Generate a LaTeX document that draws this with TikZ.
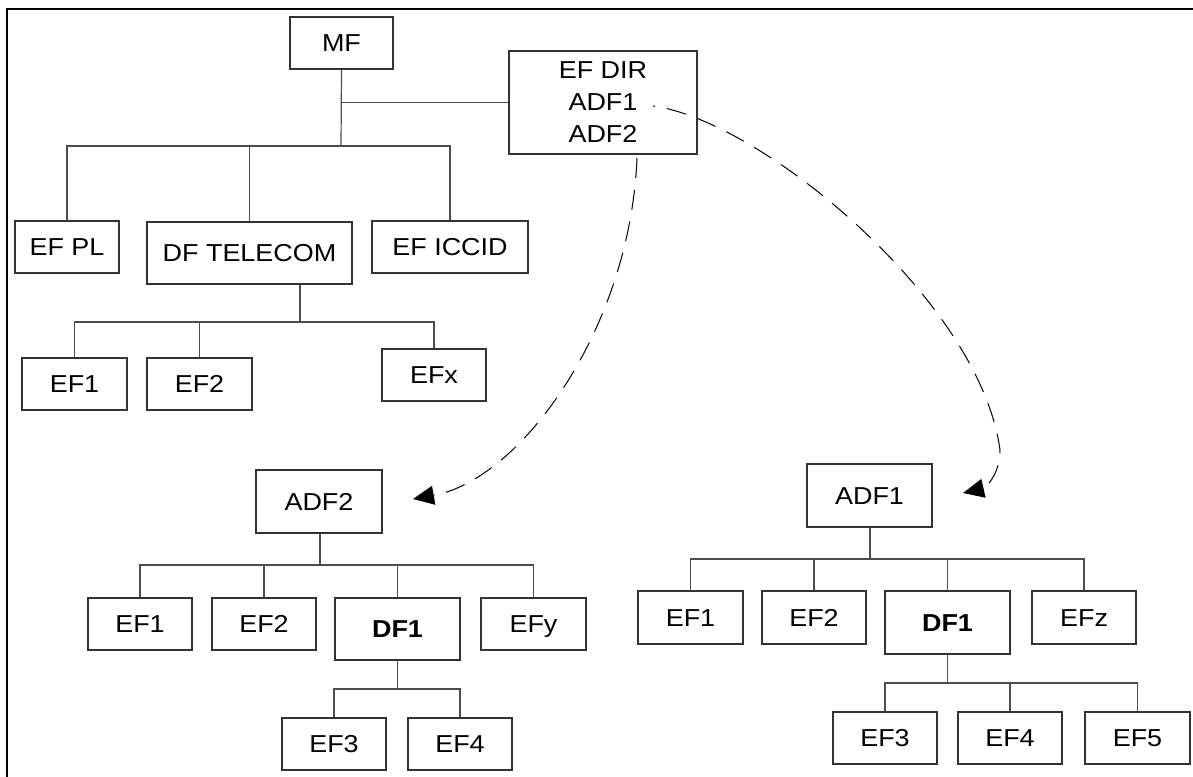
\documentclass[tikz,border=0pt]{standalone}
\usepackage{fontspec}
\setmainfont{Liberation Sans}[FakeStretch=1.1]
\usetikzlibrary{arrows.meta}
\begin{document}
\begin{tikzpicture}[x=1pt,y=-1pt,
  boxbase/.style={draw=black!80,line width=1.3pt,inner sep=0pt,font=\fontsize{24.5}{32}\selectfont},
  box/.style={boxbase,text height=17pt,text depth=0pt},
  treeline/.style={draw=black!70,line width=1.2pt},
  link/.style={draw=black,line width=1pt,dash pattern=on 20pt off 12pt,-{Triangle[length=21pt,width=19pt]}}]
\useasboundingbox (0,0) rectangle (1193,776);
\draw[line width=2pt] (7,790) -- (7,9) -- (1200,9);

% top tree
\node[box,minimum width=103pt,minimum height=52pt] (MF) at (341.5,43) {MF};
\node[boxbase,minimum width=188pt,minimum height=103pt,align=center] (EFDIR) at (603,102.5) {EF DIR\\ADF1\\ADF2};
\node[box,minimum width=104pt,minimum height=52pt] (EFPL) at (67,247) {EF PL};
\node[box,minimum width=205pt,minimum height=62pt] (DFTEL) at (249.5,253) {DF TELECOM};
\node[box,minimum width=156pt,minimum height=52pt] (EFICCID) at (450,247) {EF ICCID};
\node[box,minimum width=105pt,minimum height=52pt] (EFa) at (74.5,384) {EF1};
\node[box,minimum width=105pt,minimum height=52pt] (EFb) at (199.5,384) {EF2};
\node[box,minimum width=104pt,minimum height=52pt] (EFx) at (434,375) {EFx};

\coordinate (j0) at (341,102.5);
\coordinate (j1) at (341,146);
\draw[treeline] (MF.south) -- (j1);
\draw[treeline] (j0) -- (EFDIR.west);
\draw[treeline] (EFPL.north) |- (j1);
\draw[treeline] (DFTEL.north) -- (DFTEL.north |- j1);
\draw[treeline] (EFICCID.north) |- (j1);

\coordinate (j2) at (300,322);
\draw[treeline] (j2) -- (j2 |- DFTEL.south);
\draw[treeline] (EFa.north) |- (j2);
\draw[treeline] (EFb.north) -- (EFb.north |- j2);
\draw[treeline] (EFx.north) |- (j2);

% ADF2 tree
\node[box,minimum width=126pt,minimum height=63pt] (ADFb) at (319,501.5) {ADF2};
\node[box,minimum width=104pt,minimum height=52pt] (Ba) at (140,624) {EF1};
\node[box,minimum width=104pt,minimum height=52pt] (Bb) at (264,624) {EF2};
\node[box,minimum width=125pt,minimum height=62pt,font=\fontsize{24.5}{32}\selectfont\bfseries] (BDF) at (397.5,629) {DF1};
\node[box,minimum width=105pt,minimum height=52pt] (By) at (533.5,624) {EFy};
\node[box,minimum width=104pt,minimum height=52pt] (Bc) at (334,744) {EF3};
\node[box,minimum width=104pt,minimum height=52pt] (Bd) at (460,744) {EF4};

\coordinate (j3) at (320,565);
\draw[treeline] (j3) -- (j3 |- ADFb.south);
\draw[treeline] (Ba.north) |- (j3);
\draw[treeline] (Bb.north) -- (Bb.north |- j3);
\draw[treeline] (BDF.north) -- (BDF.north |- j3);
\draw[treeline] (By.north) |- (j3);
\coordinate (j4) at (397.5,689);
\draw[treeline] (BDF.south) -- (j4);
\draw[treeline] (Bc.north) |- (j4);
\draw[treeline] (Bd.north) |- (j4);

% ADF1 tree
\node[box,minimum width=125pt,minimum height=63pt] (ADFa) at (869.5,495.5) {ADF1};
\node[box,minimum width=105pt,minimum height=53pt] (Ca) at (690.5,617.5) {EF1};
\node[box,minimum width=104pt,minimum height=53pt] (Cb) at (814,617.5) {EF2};
\node[box,minimum width=125pt,minimum height=63pt,font=\fontsize{24.5}{32}\selectfont\bfseries] (CDF) at (947.5,622.5) {DF1};
\node[box,minimum width=104pt,minimum height=53pt] (Cz) at (1084,617.5) {EFz};
\node[box,minimum width=104pt,minimum height=52pt] (Cc) at (885,738) {EF3};
\node[box,minimum width=104pt,minimum height=52pt] (Cd) at (1010,738) {EF4};
\node[box,minimum width=105pt,minimum height=52pt] (Ce) at (1137.5,738) {EF5};

\coordinate (j5) at (870,559);
\draw[treeline] (j5) -- (j5 |- ADFa.south);
\draw[treeline] (Ca.north) |- (j5);
\draw[treeline] (Cb.north) -- (Cb.north |- j5);
\draw[treeline] (CDF.north) -- (CDF.north |- j5);
\draw[treeline] (Cz.north) |- (j5);
\coordinate (j6) at (947.5,683);
\draw[treeline] (CDF.south) -- (j6);
\draw[treeline] (Cc.north) |- (j6);
\draw[treeline] (Cd.north) -- (Cd.north |- j6);
\draw[treeline] (Ce.north) |- (j6);

% dashed links
\coordinate (s2) at (637,158);
\coordinate (t2) at (413,499);
\draw[link] (s2) .. controls (630,330) and (520,480) .. (t2);
\coordinate (s1) at (653,106);
\coordinate (m1) at (1000,450);
\coordinate (t1) at (963,493);
\draw[link,dash phase=18pt] (s1) .. controls (760,120) and (980,300) .. (m1) .. controls (1000,475) and (985,488) .. (t1);
\end{tikzpicture}
\end{document}
